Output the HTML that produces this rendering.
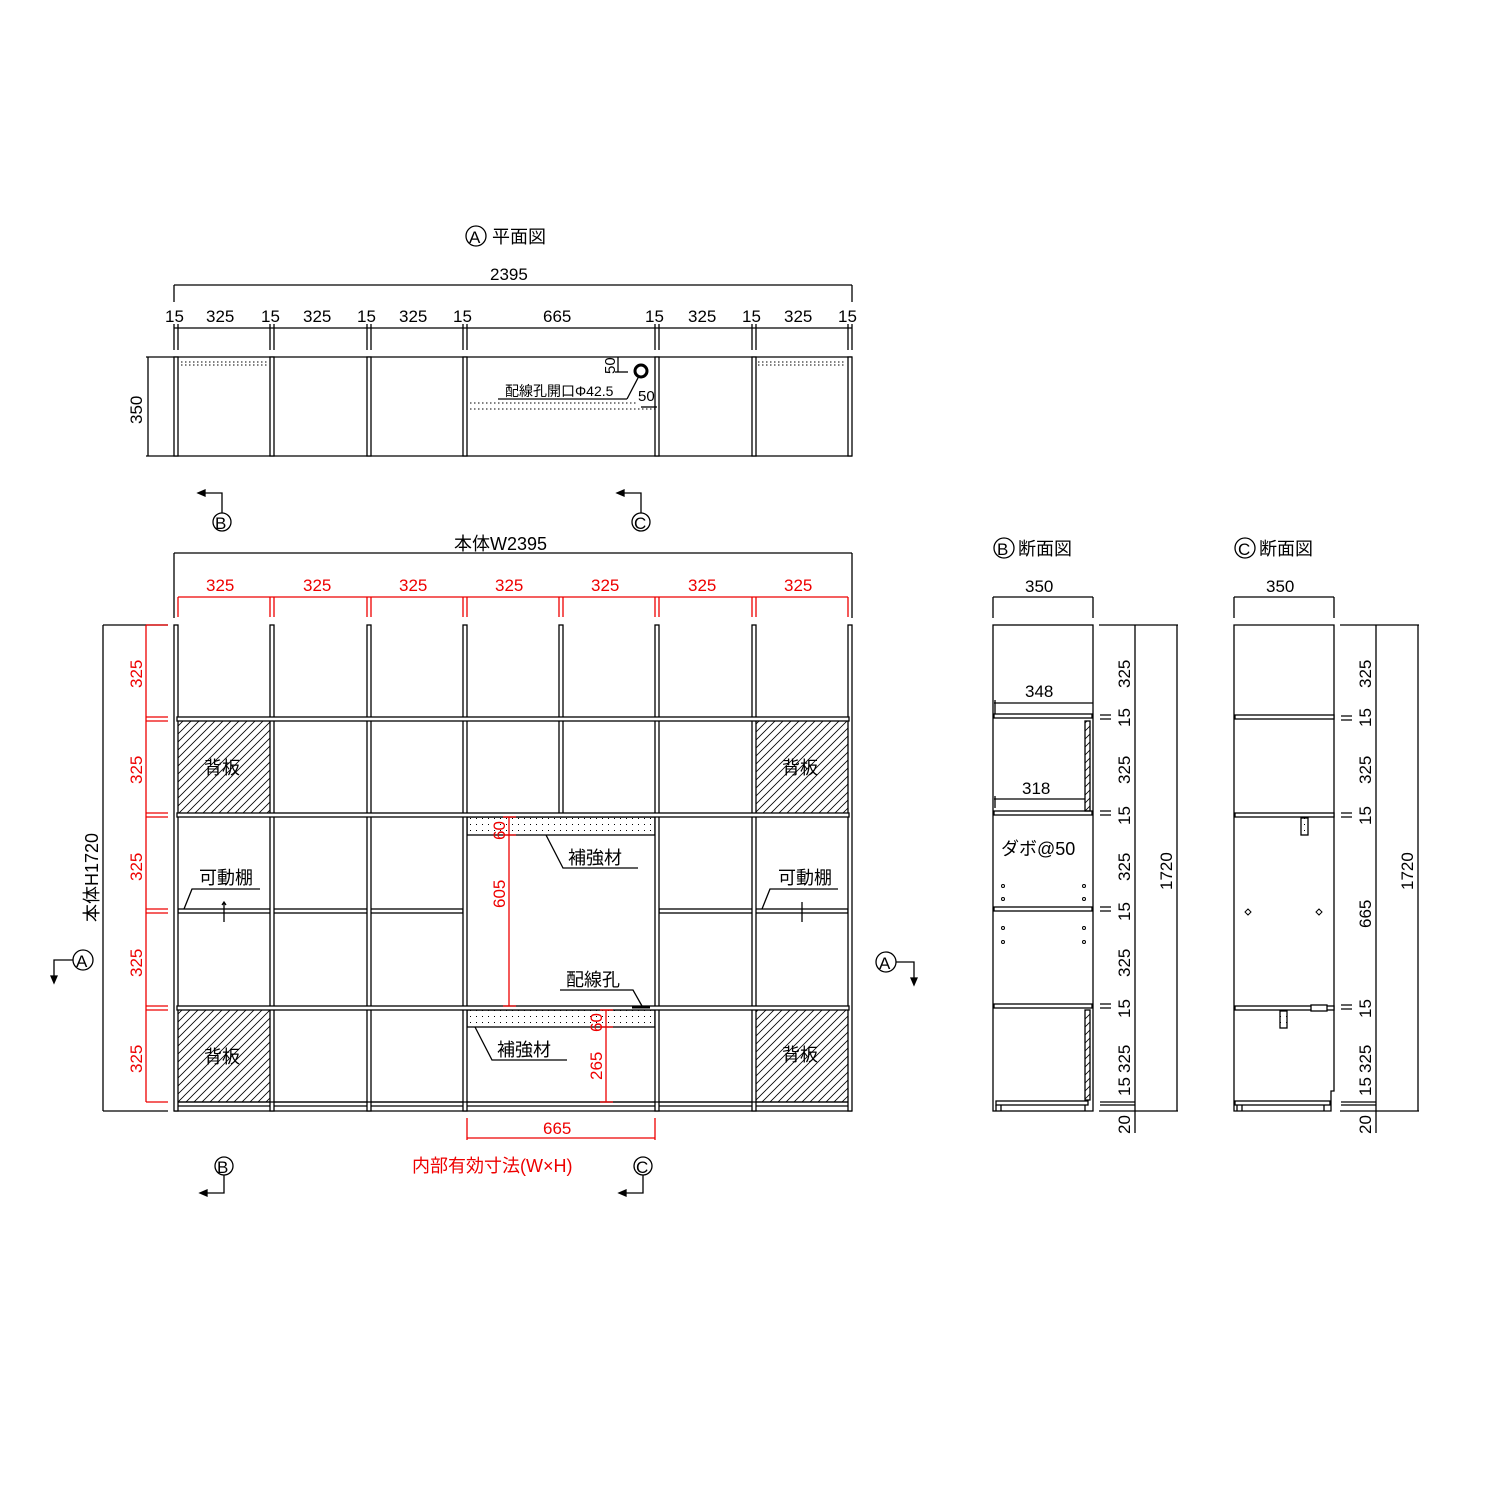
<!DOCTYPE html>
<html><head><meta charset="utf-8"><style>
html,body{margin:0;padding:0;background:#fff}
svg{display:block}
text{font-family:"Liberation Sans","Noto Sans CJK JP",sans-serif;font-size:17px;fill:#000}
.r{fill:#e00}
</style></head><body>
<svg width="1500" height="1500" viewBox="0 0 1500 1500" xmlns="http://www.w3.org/2000/svg">
<defs>
<pattern id="h" width="8" height="8" patternUnits="userSpaceOnUse"><path d="M-2,10 L10,-2 M-2,2 L2,-2 M6,10 L10,6" stroke="#000" stroke-width="0.8"/></pattern>
<pattern id="d" width="6" height="6" patternUnits="userSpaceOnUse"><rect x="2" y="2" width="1" height="1" fill="#000"/></pattern>
</defs>
<g fill="none" stroke="#000" stroke-width="1.3">

<!-- ===== PLAN VIEW ===== -->
<circle cx="476" cy="236" r="10"/><text x="469" y="243" style="stroke:none;font-size:17px">A</text>
<text x="492" y="243" style="font-size:18px;stroke:none">平面図</text>
<line x1="174" y1="285" x2="852" y2="285"/>
<line x1="174" y1="285" x2="174" y2="302"/><line x1="852" y1="285" x2="852" y2="302"/>
<line x1="174" y1="328" x2="852" y2="328"/>
<g>
<path d="M174,324V350M178,324V350M270,324V350M274,324V350M367,324V350M371,324V350M463,324V350M467,324V350M655,324V350M659,324V350M752,324V350M756,324V350M848,324V350M852,324V350"/>
</g>
<line x1="146" y1="357" x2="852" y2="357"/><line x1="146" y1="456" x2="852" y2="456"/>
<line x1="148" y1="357" x2="148" y2="456"/>
<g fill="#fff">
<rect x="174" y="357" width="4" height="99"/><rect x="270" y="357" width="4" height="99"/><rect x="367" y="357" width="4" height="99"/><rect x="463" y="357" width="4" height="99"/><rect x="655" y="357" width="4" height="99"/><rect x="752" y="357" width="4" height="99"/><rect x="848" y="357" width="4" height="99"/>
</g>
<g stroke-dasharray="1.5 2.5" stroke-width="1">
<line x1="181" y1="362" x2="268" y2="362"/><line x1="181" y1="365" x2="268" y2="365"/>
<line x1="758" y1="362" x2="846" y2="362"/><line x1="758" y1="365" x2="846" y2="365"/>
<line x1="470" y1="403" x2="638" y2="403"/><line x1="470" y1="409" x2="655" y2="409"/>
</g>
<circle cx="641" cy="371" r="6" stroke-width="3"/>
<line x1="498" y1="399" x2="627" y2="399"/><line x1="627" y1="399" x2="639" y2="376"/>
<line x1="618" y1="357" x2="618" y2="372"/><line x1="615" y1="372" x2="628" y2="372"/>
<line x1="641" y1="407" x2="657" y2="407"/>
<g stroke="none">
<text x="490" y="280">2395</text>
<text x="165" y="322">15</text><text x="206" y="322">325</text><text x="261" y="322">15</text><text x="303" y="322">325</text><text x="357" y="322">15</text><text x="399" y="322">325</text><text x="453" y="322">15</text><text x="543" y="322">665</text><text x="645" y="322">15</text><text x="688" y="322">325</text><text x="742" y="322">15</text><text x="784" y="322">325</text><text x="838" y="322">15</text>
<text transform="translate(142,424) rotate(-90)">350</text>
<text transform="translate(615,374) rotate(-90)" style="font-size:15px">50</text>
<text x="638" y="401" style="font-size:15px">50</text>
<text x="505" y="396" style="font-size:14px">配線孔開口Φ42.5</text>
</g>

<!-- section markers -->
<circle cx="222" cy="522" r="9"/><text x="215" y="529" style="stroke:none;font-size:17px">B</text>
<path d="M222,513V493H203"/><path d="M198,493l7,-3v6z" fill="#000"/>
<circle cx="641" cy="522" r="9"/><text x="634" y="529" style="stroke:none;font-size:17px">C</text>
<path d="M641,513V493H622"/><path d="M617,493l7,-3v6z" fill="#000"/>
<circle cx="224" cy="1166" r="9"/><text x="217" y="1173" style="stroke:none;font-size:17px">B</text>
<path d="M224,1175V1193H205"/><path d="M200,1193l7,-3v6z" fill="#000"/>
<circle cx="643" cy="1166" r="9"/><text x="636" y="1173" style="stroke:none;font-size:17px">C</text>
<path d="M643,1175V1193H624"/><path d="M619,1193l7,-3v6z" fill="#000"/>
<circle cx="83" cy="960" r="10"/><text x="76" y="967" style="stroke:none;font-size:17px">A</text>
<path d="M73,960H54V978"/><path d="M54,983l-3,-7h6z" fill="#000"/>
<circle cx="886" cy="962" r="10"/><text x="879" y="969" style="stroke:none;font-size:17px">A</text>
<path d="M896,962H914V980"/><path d="M914,985l-3,-7h6z" fill="#000"/>

<!-- ===== FRONT ELEVATION ===== -->
<line x1="174" y1="553" x2="852" y2="553"/>
<line x1="174" y1="553" x2="174" y2="618"/><line x1="852" y1="553" x2="852" y2="618"/>
<text x="454" y="550" style="stroke:none;font-size:18px">本体W2395</text>
<line x1="103" y1="625" x2="168" y2="625"/><line x1="103" y1="1111" x2="168" y2="1111"/>
<line x1="103" y1="625" x2="103" y2="1111"/>
<text transform="translate(98,922) rotate(-90)" style="stroke:none;font-size:18px">本体H1720</text>

<rect x="178" y="721" width="92" height="92" fill="url(#h)" stroke="none"/>
<rect x="756" y="721" width="92" height="92" fill="url(#h)" stroke="none"/>
<rect x="178" y="1010" width="92" height="92" fill="url(#h)" stroke="none"/>
<rect x="756" y="1010" width="92" height="92" fill="url(#h)" stroke="none"/>
<rect x="467" y="817" width="188" height="18" fill="url(#d)"/>
<rect x="467" y="1010" width="188" height="17" fill="url(#d)"/>

<rect x="178" y="909" width="285" height="4" fill="#fff"/>
<rect x="659" y="909" width="189" height="4" fill="#fff"/>
<line x1="174" y1="1102" x2="852" y2="1102"/><line x1="174" y1="1106" x2="852" y2="1106"/><line x1="174" y1="1111" x2="852" y2="1111"/>
<g fill="#fff">
<rect x="174" y="625" width="4" height="486"/><rect x="270" y="625" width="4" height="486"/><rect x="367" y="625" width="4" height="486"/><rect x="463" y="625" width="4" height="486"/><rect x="559" y="625" width="4" height="190"/><rect x="655" y="625" width="4" height="486"/><rect x="752" y="625" width="4" height="486"/><rect x="848" y="625" width="4" height="486"/>
<rect x="177" y="717" width="672" height="4"/><rect x="177" y="813" width="672" height="4"/><rect x="177" y="1006" width="672" height="4"/>
</g>
<line x1="178" y1="1102" x2="848" y2="1102"/>
<path d="M546,835L563,868H638"/><text x="568" y="864" style="stroke:none;font-size:18px">補強材</text>
<path d="M475,1027L492,1060H567"/><text x="497" y="1056" style="stroke:none;font-size:18px">補強材</text>
<path d="M560,990H633L642,1006"/><line x1="632" y1="1007" x2="650" y2="1007" stroke-width="3"/><text x="566" y="986" style="stroke:none;font-size:18px">配線孔</text>
<path d="M184,909L192,889H260"/><text x="199" y="884" style="stroke:none;font-size:18px">可動棚</text>
<path d="M224,902V922M222,905l2,-3l2,3"/>
<path d="M762,909L770,889H838"/><text x="778" y="884" style="stroke:none;font-size:18px">可動棚</text>
<path d="M802,902V922"/>
<text x="204" y="774" style="stroke:none;font-size:18px">背板</text>
<text x="782" y="774" style="stroke:none;font-size:18px">背板</text>
<text x="204" y="1063" style="stroke:none;font-size:18px">背板</text>
<text x="782" y="1061" style="stroke:none;font-size:18px">背板</text>

<g stroke="#e00">
<line x1="178" y1="597" x2="848" y2="597"/>
<path d="M178,597V617M270,597V617M274,597V617M367,597V617M371,597V617M463,597V617M467,597V617M559,597V617M563,597V617M655,597V617M659,597V617M752,597V617M756,597V617M848,597V617"/>
<line x1="146" y1="625" x2="146" y2="1102"/>
<path d="M146,625H168M146,717H168M146,721H168M146,813H168M146,817H168M146,909H168M146,913H168M146,1006H168M146,1010H168M146,1102H168"/>
<line x1="509" y1="817" x2="509" y2="1006"/><path d="M503,817H516M503,835H516M503,1006H516"/>
<line x1="606" y1="1010" x2="606" y2="1102"/><path d="M600,1010H613M600,1027H613M600,1102H613"/>
<line x1="467" y1="1138" x2="655" y2="1138"/><path d="M467,1118V1140M655,1118V1140"/>
</g>
<g stroke="none">
<text class="r" x="206" y="591">325</text><text class="r" x="303" y="591">325</text><text class="r" x="399" y="591">325</text><text class="r" x="495" y="591">325</text><text class="r" x="591" y="591">325</text><text class="r" x="688" y="591">325</text><text class="r" x="784" y="591">325</text>
<text class="r" transform="translate(142,688) rotate(-90)">325</text>
<text class="r" transform="translate(142,784) rotate(-90)">325</text>
<text class="r" transform="translate(142,881) rotate(-90)">325</text>
<text class="r" transform="translate(142,977) rotate(-90)">325</text>
<text class="r" transform="translate(142,1073) rotate(-90)">325</text>
<text class="r" transform="translate(505,840) rotate(-90)">60</text>
<text class="r" transform="translate(505,908) rotate(-90)">605</text>
<text class="r" transform="translate(602,1032) rotate(-90)">60</text>
<text class="r" transform="translate(602,1080) rotate(-90)">265</text>
<text class="r" x="543" y="1134">665</text>
<text class="r" x="412" y="1172" style="font-size:18px">内部有効寸法(W×H)</text>
</g>

<!-- ===== SECTION B ===== -->
<circle cx="1004" cy="548" r="10"/><text x="997" y="555" style="stroke:none;font-size:17px">B</text>
<text x="1018" y="555" style="stroke:none;font-size:18px">断面図</text>
<line x1="993" y1="597" x2="1093" y2="597"/><path d="M993,597V618M1093,597V618"/>
<text x="1025" y="592" style="stroke:none">350</text>
<rect x="993" y="625" width="100" height="486"/>
<g fill="#fff"><rect x="994" y="714" width="98" height="4"/><rect x="994" y="811" width="98" height="4"/><rect x="994" y="907" width="98" height="4"/><rect x="994" y="1004" width="98" height="4"/><rect x="996" y="1101" width="92" height="4"/></g>
<path d="M996,1105V1111M1001,1105V1111M1085,1105V1111"/>
<rect x="1085" y="721" width="5" height="90" fill="url(#h)"/>
<rect x="1085" y="1010" width="5" height="90" fill="url(#h)"/>
<line x1="994" y1="703" x2="1093" y2="703"/><line x1="995" y1="700" x2="995" y2="714"/>
<line x1="994" y1="799" x2="1085" y2="799"/><line x1="995" y1="796" x2="995" y2="808"/>
<text x="1025" y="697" style="stroke:none">348</text><text x="1022" y="794" style="stroke:none">318</text>
<text x="1001" y="855" style="stroke:none;font-size:18px">ダボ@50</text>
<g stroke-width="1"><circle cx="1003" cy="886" r="1.5"/><circle cx="1003" cy="899" r="1.5"/><circle cx="1003" cy="928" r="1.5"/><circle cx="1003" cy="942" r="1.5"/><circle cx="1084" cy="886" r="1.5"/><circle cx="1084" cy="899" r="1.5"/><circle cx="1084" cy="928" r="1.5"/><circle cx="1084" cy="942" r="1.5"/></g>
<line x1="1099" y1="625" x2="1178" y2="625"/><line x1="1135" y1="625" x2="1135" y2="1133"/>
<line x1="1177" y1="625" x2="1177" y2="1111"/><line x1="1099" y1="1111" x2="1178" y2="1111"/>
<path d="M1100,715H1111M1100,719H1111M1100,811H1111M1100,815H1111M1100,907H1111M1100,911H1111M1100,1004H1111M1100,1008H1111M1100,1102H1135M1100,1105H1135"/>
<g stroke="none">
<text transform="translate(1130,688) rotate(-90)">325</text><text transform="translate(1130,727) rotate(-90)">15</text>
<text transform="translate(1130,784) rotate(-90)">325</text><text transform="translate(1130,825) rotate(-90)">15</text>
<text transform="translate(1130,881) rotate(-90)">325</text><text transform="translate(1130,921) rotate(-90)">15</text>
<text transform="translate(1130,977) rotate(-90)">325</text><text transform="translate(1130,1018) rotate(-90)">15</text>
<text transform="translate(1130,1073) rotate(-90)">325</text><text transform="translate(1130,1096) rotate(-90)">15</text>
<text transform="translate(1130,1134) rotate(-90)">20</text>
<text transform="translate(1172,890) rotate(-90)">1720</text>
</g>

<!-- ===== SECTION C ===== -->
<circle cx="1245" cy="548" r="10"/><text x="1238" y="555" style="stroke:none;font-size:17px">C</text>
<text x="1259" y="555" style="stroke:none;font-size:18px">断面図</text>
<line x1="1234" y1="597" x2="1334" y2="597"/><path d="M1234,597V618M1334,597V618"/>
<text x="1266" y="592" style="stroke:none">350</text>
<path d="M1234,625H1334V1091H1331V1111H1234Z"/>
<g fill="#fff"><rect x="1235" y="715" width="99" height="4"/><rect x="1235" y="813" width="99" height="4"/><rect x="1235" y="1006" width="99" height="4"/><rect x="1235" y="1101" width="95" height="4"/></g>
<path d="M1237,1105V1111M1242,1105V1111M1324,1105V1111"/>
<rect x="1301" y="818" width="7" height="17" fill="url(#d)"/>
<rect x="1280" y="1011" width="7" height="17" fill="url(#d)"/>
<rect x="1311" y="1005" width="16" height="6" fill="#fff"/>
<path d="M1248,909l3,3l-3,3l-3,-3z M1319,909l3,3l-3,3l-3,-3z" stroke-width="1"/>
<line x1="1340" y1="625" x2="1419" y2="625"/><line x1="1376" y1="625" x2="1376" y2="1133"/>
<line x1="1418" y1="625" x2="1418" y2="1111"/><line x1="1340" y1="1111" x2="1419" y2="1111"/>
<path d="M1341,716H1352M1341,720H1352M1341,813H1352M1341,817H1352M1341,1005H1352M1341,1009H1352M1341,1102H1376M1341,1105H1376"/>
<g stroke="none">
<text transform="translate(1371,688) rotate(-90)">325</text><text transform="translate(1371,727) rotate(-90)">15</text>
<text transform="translate(1371,784) rotate(-90)">325</text><text transform="translate(1371,825) rotate(-90)">15</text>
<text transform="translate(1371,928) rotate(-90)">665</text><text transform="translate(1371,1018) rotate(-90)">15</text>
<text transform="translate(1371,1073) rotate(-90)">325</text><text transform="translate(1371,1096) rotate(-90)">15</text>
<text transform="translate(1371,1134) rotate(-90)">20</text>
<text transform="translate(1413,890) rotate(-90)">1720</text>
</g>
</g>
</svg>
</body></html>
